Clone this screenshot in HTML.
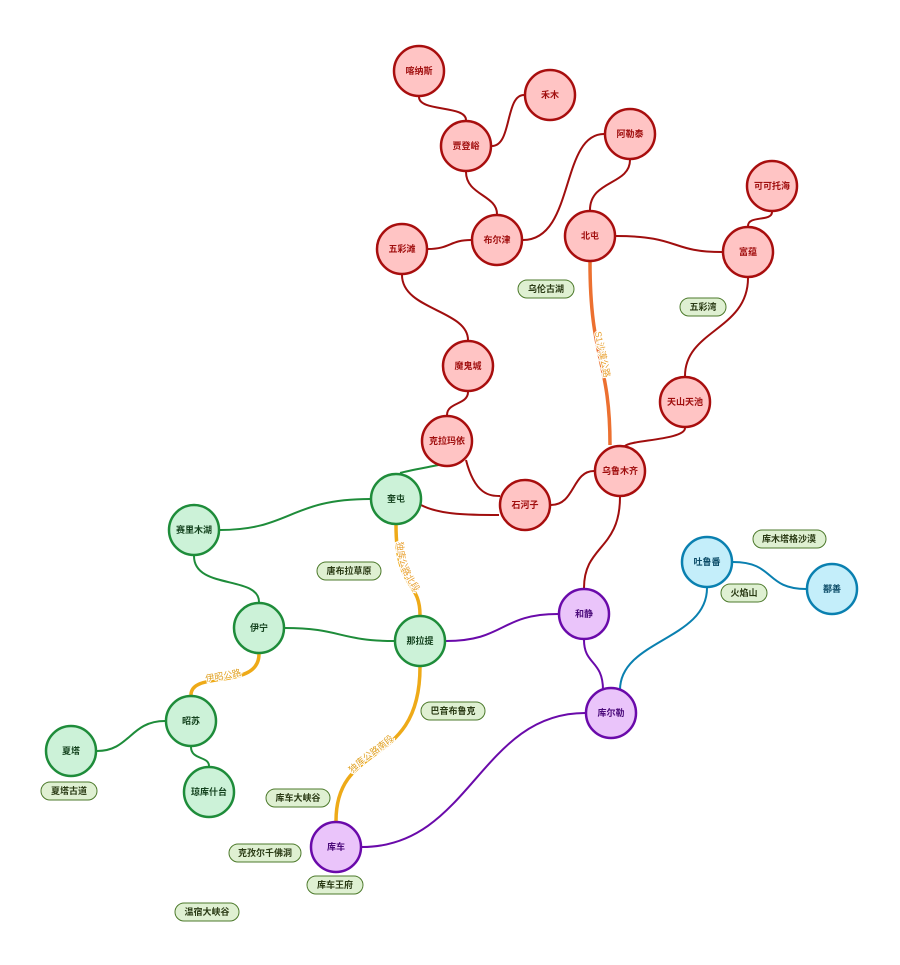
<!DOCTYPE html>
<html><head><meta charset="utf-8"><style>
body{margin:0;background:#fff}
svg{display:block}
text{font-family:"Liberation Sans","Noto Sans CJK SC",sans-serif;font-weight:bold}
.n text{font-size:9px;text-anchor:middle;dominant-baseline:central}
.p rect{fill:#dff0d2;stroke:#4d7a2c;stroke-width:1}
.p text{font-size:9px;fill:#2a3a14;text-anchor:middle;dominant-baseline:central}
.e{fill:none;stroke-width:2}
.r{fill:none;stroke-width:3.5}
.el{font-size:9px;fill:#e8a030;font-weight:normal;paint-order:stroke;stroke:#fff;stroke-width:2px}
</style></head><body>
<svg width="900" height="965" viewBox="0 0 900 965">
<path class="e" stroke="#a00e0e" d="M419,97 C419,112 466,105 466,120"/>
<path class="e" stroke="#a00e0e" d="M492,146 C512,146 505,95 524,95"/>
<path class="e" stroke="#a00e0e" d="M466,172 C466,195 497,195 497,214"/>
<path class="e" stroke="#a00e0e" d="M471,240 C450,240 450,249 428,249"/>
<path class="e" stroke="#a00e0e" d="M523,240 C575,240 560,134 604,134"/>
<path class="e" stroke="#a00e0e" d="M630,160 C630,185 590,180 590,210"/>
<path class="e" stroke="#a00e0e" d="M616,236 C680,236 670,252 722,252"/>
<path class="e" stroke="#a00e0e" d="M772,212 C772,222 748,215 748,226"/>
<path class="e" stroke="#a00e0e" d="M748,278 C748,330 685,330 685,376"/>
<path class="e" stroke="#a00e0e" d="M402,275 C402,310 468,310 468,340"/>
<path class="e" stroke="#a00e0e" d="M468,392 C468,405 447,402 447,415"/>
<path class="e" stroke="#a00e0e" d="M685,428 C685,440 630,440 625,446"/>
<path class="e" stroke="#a00e0e" d="M466,460 C475,495 490,496 500,496"/>
<path class="e" stroke="#a00e0e" d="M421,505 C440,515 470,515 499,515"/>
<path class="e" stroke="#a00e0e" d="M551,505 C575,505 572,471 594,471"/>
<path class="e" stroke="#a00e0e" d="M620,497 C620,550 584,545 584,588"/>
<path class="e" stroke="#1e8c3a" d="M443,464 C430,467 410,470 400,473"/>
<path class="e" stroke="#1e8c3a" d="M370,499 C290,499 290,530 220,530"/>
<path class="e" stroke="#1e8c3a" d="M194,556 C194,590 259,575 259,602"/>
<path class="e" stroke="#1e8c3a" d="M285,628 C340,628 340,641 394,641"/>
<path class="e" stroke="#1e8c3a" d="M165,721 C130,721 130,751 97,751"/>
<path class="e" stroke="#1e8c3a" d="M191,747 C191,760 209,756 209,766"/>
<path class="e" stroke="#6a0aaa" d="M446,641 C505,641 500,614 558,614"/>
<path class="e" stroke="#6a0aaa" d="M584,640 C584,665 603,660 603,690"/>
<path class="e" stroke="#6a0aaa" d="M362,847 C470,847 480,713 585,713"/>
<path class="e" stroke="#0a80b0" d="M707,588 C707,640 620,640 620,690"/>
<path class="e" stroke="#0a80b0" d="M733,562 C775,562 765,589 806,589"/>
<path id="s1" class="r" stroke="#ec7030" d="M590,262 C590,360 610,360 610,445"/>
<path id="dn" class="r" stroke="#eeaa18" d="M396,525 C396,590 420,580 420,615"/>
<path id="yz" class="r" stroke="#eeaa18" d="M191,695 C191,670 259,690 259,654"/>
<path id="ds" class="r" stroke="#eeaa18" d="M336,821 C336,740 420,770 420,667"/>
<text class="el"><textPath href="#s1" startOffset="38%">S1沙漠公路</textPath></text>
<text class="el"><textPath href="#dn" startOffset="18%">独库公路北段</textPath></text>
<text class="el" style="fill:#e0a020"><textPath href="#yz" startOffset="25%">伊昭公路</textPath></text>
<text class="el" style="fill:#e0a020"><textPath href="#ds" startOffset="28%">独库公路南段</textPath></text>

<g class="n" fill="#ffc4c4" stroke="#a80e0e" stroke-width="2.5">
<circle cx="419" cy="71" r="25"/><circle cx="550" cy="95" r="25"/><circle cx="466" cy="146" r="25"/><circle cx="630" cy="134" r="25"/><circle cx="772" cy="186" r="25"/><circle cx="402" cy="249" r="25"/><circle cx="497" cy="240" r="25"/><circle cx="590" cy="236" r="25"/><circle cx="748" cy="252" r="25"/><circle cx="468" cy="366" r="25"/><circle cx="685" cy="402" r="25"/><circle cx="447" cy="441" r="25"/><circle cx="620" cy="471" r="25"/><circle cx="525" cy="505" r="25"/>
</g>
<g class="n" fill="#a00e0e">
<text x="419" y="71">喀纳斯</text><text x="550" y="95">禾木</text><text x="466" y="146">贾登峪</text><text x="630" y="134">阿勒泰</text><text x="772" y="186">可可托海</text><text x="402" y="249">五彩滩</text><text x="497" y="240">布尔津</text><text x="590" y="236">北屯</text><text x="748" y="252">富蕴</text><text x="468" y="366">魔鬼城</text><text x="685" y="402">天山天池</text><text x="447" y="441">克拉玛依</text><text x="620" y="471">乌鲁木齐</text><text x="525" y="505">石河子</text>
</g>
<g class="n" fill="#ccf2d8" stroke="#1e8c3a" stroke-width="2.5">
<circle cx="396" cy="499" r="25"/><circle cx="194" cy="530" r="25"/><circle cx="259" cy="628" r="25"/><circle cx="420" cy="641" r="25"/><circle cx="191" cy="721" r="25"/><circle cx="71" cy="751" r="25"/><circle cx="209" cy="792" r="25"/>
</g>
<g class="n" fill="#14421e">
<text x="396" y="499">奎屯</text><text x="194" y="530">赛里木湖</text><text x="259" y="628">伊宁</text><text x="420" y="641">那拉提</text><text x="191" y="721">昭苏</text><text x="71" y="751">夏塔</text><text x="209" y="792">琼库什台</text>
</g>
<g class="n" fill="#eac4fa" stroke="#6a0aaa" stroke-width="2.5">
<circle cx="584" cy="614" r="25"/><circle cx="611" cy="713" r="25"/><circle cx="336" cy="847" r="25"/>
</g>
<g class="n" fill="#4a0a7a">
<text x="584" y="614">和静</text><text x="611" y="713">库尔勒</text><text x="336" y="847">库车</text>
</g>
<g class="n" fill="#c4eefa" stroke="#0a80b0" stroke-width="2.5">
<circle cx="707" cy="562" r="25"/><circle cx="832" cy="589" r="25"/>
</g>
<g class="n" fill="#0a4a66">
<text x="707" y="562">吐鲁番</text><text x="832" y="589">鄯善</text>
</g>

<g class="p">
<rect x="518" y="280" width="56" height="18" rx="9"/><text x="546" y="289">乌伦古湖</text>
<rect x="680" y="298" width="46" height="18" rx="9"/><text x="703" y="307">五彩湾</text>
<rect x="753" y="530" width="73" height="18" rx="9"/><text x="789" y="539">库木塔格沙漠</text>
<rect x="721" y="584" width="46" height="18" rx="9"/><text x="744" y="593">火焰山</text>
<rect x="317" y="562" width="64" height="18" rx="9"/><text x="349" y="571">唐布拉草原</text>
<rect x="421" y="702" width="64" height="18" rx="9"/><text x="453" y="711">巴音布鲁克</text>
<rect x="41" y="782" width="56" height="18" rx="9"/><text x="69" y="791">夏塔古道</text>
<rect x="266" y="789" width="64" height="18" rx="9"/><text x="298" y="798">库车大峡谷</text>
<rect x="229" y="844" width="72" height="18" rx="9"/><text x="265" y="853">克孜尔千佛洞</text>
<rect x="307" y="876" width="56" height="18" rx="9"/><text x="335" y="885">库车王府</text>
<rect x="175" y="903" width="64" height="18" rx="9"/><text x="207" y="912">温宿大峡谷</text>
</g>
</svg>
</body></html>
